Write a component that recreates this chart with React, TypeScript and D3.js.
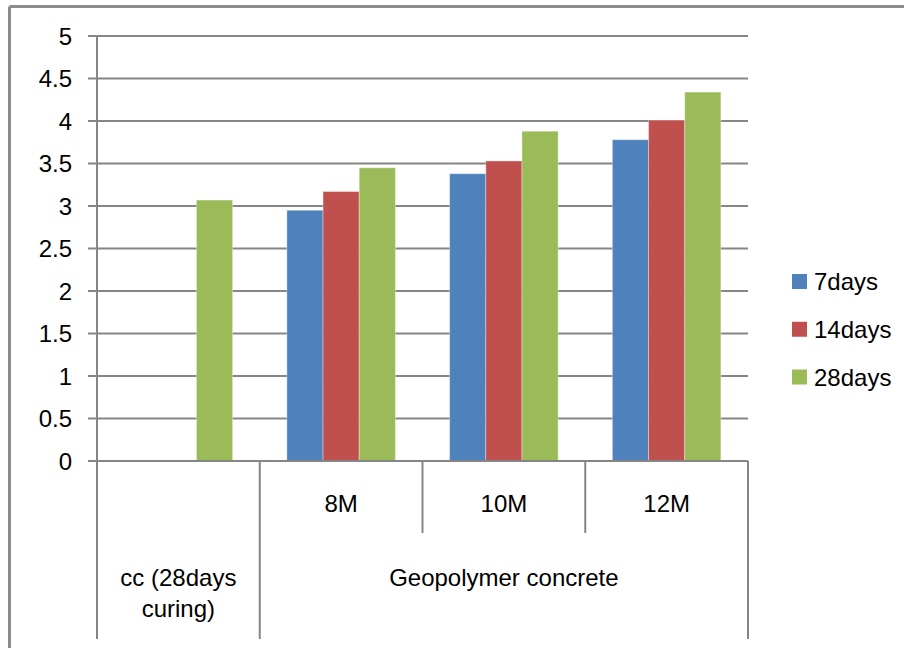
import React from "react";
import * as d3 from "d3";

const categories = ["cc (28days curing)", "8M", "10M", "12M"];
const seriesNames = ["7days", "14days", "28days"];
const days7: (number | null)[] = [null, 2.95, 3.38, 3.78];
const days14: (number | null)[] = [null, 3.17, 3.53, 4.01];
const days28: (number | null)[] = [3.07, 3.45, 3.88, 4.34];
const yTicks = [0, 0.5, 1, 1.5, 2, 2.5, 3, 3.5, 4, 4.5, 5];
const colors = ["#4F81BD", "#C0504D", "#9BBB59"];

const W = 904;
const H = 648;
const left = 97;
const right = 748;
const top = 36;
const bottom = 461;
const FONT = "'Liberation Sans', Arial, sans-serif";
const GRID = "#868686";
const FS = 24;

export default function App() {
  const seriesValues = [days7, days14, days28];
  const x = d3.scaleBand<string>().domain(categories).range([left, right]).padding(0);
  const bw = x.bandwidth();
  const xs = d3.scaleBand<string>().domain(seriesNames).range([0, bw]).paddingInner(0).paddingOuter(0.75);
  const y = d3.scaleLinear().domain([0, 5]).range([bottom, top]);

  const bars: React.ReactElement[] = [];
  categories.forEach((c, ci) => {
    seriesNames.forEach((s, si) => {
      const v = seriesValues[si][ci];
      if (v == null) return;
      const bx = (x(c) as number) + (xs(s) as number);
      bars.push(
        <rect
          key={c + s}
          x={bx}
          y={y(v)}
          width={xs.bandwidth()}
          height={y(0) - y(v)}
          fill={colors[si]}
          stroke="#ffffff"
          strokeOpacity={0.35}
          strokeWidth={1}
        />
      );
    });
  });

  const xb = (c: string) => x(c) as number;
  const geoStart = xb(categories[1]);
  const lastEnd = right;
  const legendY = d3.scalePoint<string>().domain(seriesNames).range([281.5, 377]);

  return (
    <svg
      width={W}
      height={H}
      style={{ position: "absolute", left: 0, top: 0, background: "#fff" }}
      fontFamily={FONT}
    >
      <rect x={0} y={0} width={W} height={H} fill="#ffffff" />
      {/* outer border (top & left visible) */}
      <line x1={9.5} x2={W} y1={6.5} y2={6.5} stroke="#8c8c8c" strokeWidth={3} />
      <line x1={9.5} x2={9.5} y1={6.5} y2={H} stroke="#8c8c8c" strokeWidth={3} />

      {/* gridlines and ticks */}
      {yTicks.map((t) => (
        <g key={t}>
          <line x1={88} x2={right} y1={y(t)} y2={y(t)} stroke={GRID} strokeWidth={2} />
          <text
            x={72}
            y={y(t)}
            textAnchor="end"
            dominantBaseline="central"
            fontSize={FS}
            fill="#000"
          >
            {t}
          </text>
        </g>
      ))}

      {bars}

      {/* axes */}
      <line x1={left} x2={left} y1={top} y2={639} stroke={GRID} strokeWidth={2} />
      <line x1={88} x2={right} y1={bottom} y2={bottom} stroke={GRID} strokeWidth={2} />
      <line x1={geoStart} x2={geoStart} y1={bottom} y2={639} stroke={GRID} strokeWidth={2} />
      <line x1={lastEnd} x2={lastEnd} y1={bottom} y2={639} stroke={GRID} strokeWidth={2} />
      {categories.slice(2).map((c) => (
        <line key={c} x1={xb(c)} x2={xb(c)} y1={bottom} y2={533} stroke={GRID} strokeWidth={2} />
      ))}

      {/* category labels */}
      {categories.slice(1).map((c) => (
        <text
          key={c}
          x={xb(c) + bw / 2}
          y={503}
          textAnchor="middle"
          dominantBaseline="central"
          fontSize={FS}
          fill="#000"
        >
          {c}
        </text>
      ))}
      <text x={(geoStart + lastEnd) / 2} y={577} textAnchor="middle" dominantBaseline="central" fontSize={FS} fill="#000">
        Geopolymer concrete
      </text>
      <text x={xb(categories[0]) + bw / 2} y={577} textAnchor="middle" dominantBaseline="central" fontSize={FS} fill="#000">
        cc (28days
      </text>
      <text x={xb(categories[0]) + bw / 2} y={608} textAnchor="middle" dominantBaseline="central" fontSize={FS} fill="#000">
        curing)
      </text>

      {/* legend */}
      {seriesNames.map((s, i) => (
        <g key={s}>
          <rect x={792} y={(legendY(s) as number) - 7.5} width={15} height={15} fill={colors[i]} />
          <text x={814} y={legendY(s) as number} dominantBaseline="central" fontSize={FS} fill="#000">
            {s}
          </text>
        </g>
      ))}
    </svg>
  );
}
